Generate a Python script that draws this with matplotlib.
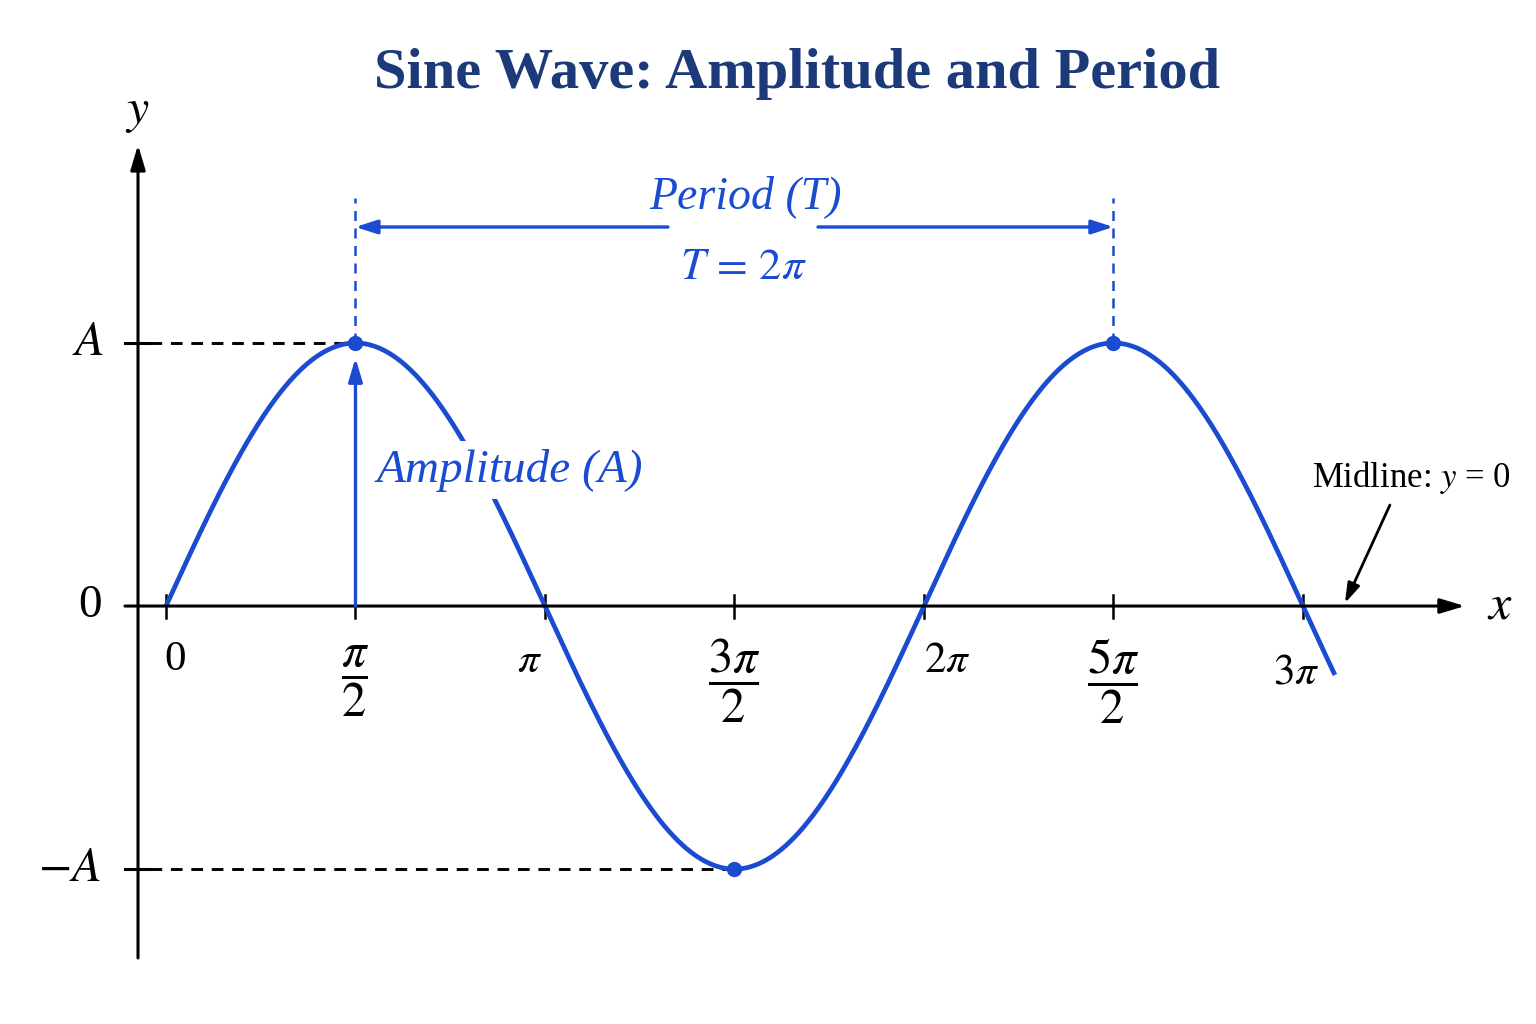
import numpy as np
import matplotlib
matplotlib.use("Agg")
import matplotlib.pyplot as plt

plt.rcParams['font.family'] = ['Liberation Serif', 'DejaVu Serif']
plt.rcParams['mathtext.fontset'] = 'stix'

# data
amp = 1.0
x_end = 9.69
tick_vals = [0, np.pi/2, np.pi, 3*np.pi/2, 2*np.pi, 5*np.pi/2, 3*np.pi]
tick_labels = ["0", r"$\dfrac{\pi}{2}$", r"$\pi$", r"$\dfrac{3\pi}{2}$", r"$2\pi$", r"$\dfrac{5\pi}{2}$", r"$3\pi$"]
tick_label_pos = [(0.075, -0.205), (np.pi/2, -0.285), (3.017, -0.213), (3*np.pi/2, -0.285),
                  (6.474, -0.213), (5*np.pi/2, -0.285), (9.367, -0.255)]
peaks_x = [np.pi/2, 5*np.pi/2]
trough_x = [3*np.pi/2]

blue = '#1a4bd0'
navy = '#1c3a7a'

fig = plt.figure(figsize=(15.36, 10.24), dpi=100)
ax = fig.add_axes([0, 0, 1, 1])
ax.set_xlim(-1.376, 11.357)
ax.set_ylim(-1.589, 2.304)
ax.axis('off')

# curve
x = np.linspace(0, x_end, 800)
ax.plot(x, amp*np.sin(x), color=blue, lw=3.4, zorder=3, solid_capstyle='butt')
ax.plot(peaks_x, [amp]*len(peaks_x), 'o', color=blue, ms=10, zorder=4)
ax.plot(trough_x, [-amp]*len(trough_x), 'o', color=blue, ms=10, zorder=4)

# axes arrows
yax = -0.232
ax.annotate("", xy=(yax, 1.753), xytext=(yax, -1.338),
            arrowprops=dict(arrowstyle="-|>,head_length=1.5,head_width=0.45", lw=2.2, color='black', shrinkA=0, shrinkB=0))
ax.annotate("", xy=(10.768, 0), xytext=(-0.34, 0),
            arrowprops=dict(arrowstyle="-|>,head_length=1.5,head_width=0.45", lw=2.2, color='black', shrinkA=0, shrinkB=0))

# y ticks and guides
for yv in [amp, -amp]:
    ax.plot([-0.34, -0.133], [yv, yv], color='black', lw=2.2)
ax.plot([-0.133, np.pi/2], [amp, amp], color='black', lw=2.1, ls=(0, (4, 3)))
ax.plot([-0.133, 3*np.pi/2], [-amp, -amp], color='black', lw=2.1, ls=(0, (4, 3)))
ax.text(-0.647, amp, r"$A$", fontsize=35, ha='center', va='center')
ax.text(-0.63, 0, "0", fontsize=34, ha='center', va='center')
ax.text(-0.80, -amp, r"$-A$", fontsize=35, ha='center', va='center')
ax.text(-0.24, 1.878, r"$y$", fontsize=36, ha='center', va='center')
ax.text(11.058, 0, r"$x$", fontsize=36, ha='center', va='center')

# x ticks
for tv, lab, (lx, ly) in zip(tick_vals, tick_labels, tick_label_pos):
    ax.plot([tv, tv], [0.042, -0.046], color='black', lw=1.8, zorder=2)
    fs = 35 if "frac" in lab else 31
    ax.text(lx, ly, lab, fontsize=fs, ha='center', va='center')

# period
for px in peaks_x:
    ax.plot([px, px], [amp, 1.551], color=blue, lw=1.8, ls=(0, (4, 3)))
ax.annotate("", xy=(np.pi/2, 1.441), xytext=(4.161, 1.441),
            arrowprops=dict(arrowstyle="-|>,head_length=1.3,head_width=0.42", lw=2.4, color=blue, shrinkA=0, shrinkB=0))
ax.annotate("", xy=(5*np.pi/2, 1.441), xytext=(5.405, 1.441),
            arrowprops=dict(arrowstyle="-|>,head_length=1.3,head_width=0.42", lw=2.4, color=blue, shrinkA=0, shrinkB=0))
ax.text(4.80, 1.555, "Period (T)", fontsize=33, style='italic', color=blue, ha='center', va='center')
ax.text(4.783, 1.285, r"$T\,=\,2\pi$", fontsize=32, color=blue, ha='center', va='center')

# amplitude
ax.annotate("", xy=(np.pi/2, 0.943), xytext=(np.pi/2, 0),
            arrowprops=dict(arrowstyle="-|>,head_length=1.4,head_width=0.42", lw=2.4, color=blue, shrinkA=0, shrinkB=0))
ax.text(2.851, 0.517, "Amplitude (A)", fontsize=34, style='italic', color=blue, ha='center', va='center',
        zorder=5, bbox=dict(facecolor='white', edgecolor='none', pad=5))

# midline
ax.annotate("", xy=(9.773, 0.011), xytext=(10.146, 0.384),
            arrowprops=dict(arrowstyle="-|>,head_length=1.2,head_width=0.38", lw=2.0, color='black', shrinkA=0, shrinkB=0))
ax.text(10.328, 0.49, r"Midline: $y$ = 0", fontsize=25, ha='center', va='center')

fig.text(0.519, 0.928, "Sine Wave: Amplitude and Period", fontsize=42, fontweight='bold',
         color=navy, ha='center', va='center')

fig.savefig("out.png", dpi=100, facecolor='white')
